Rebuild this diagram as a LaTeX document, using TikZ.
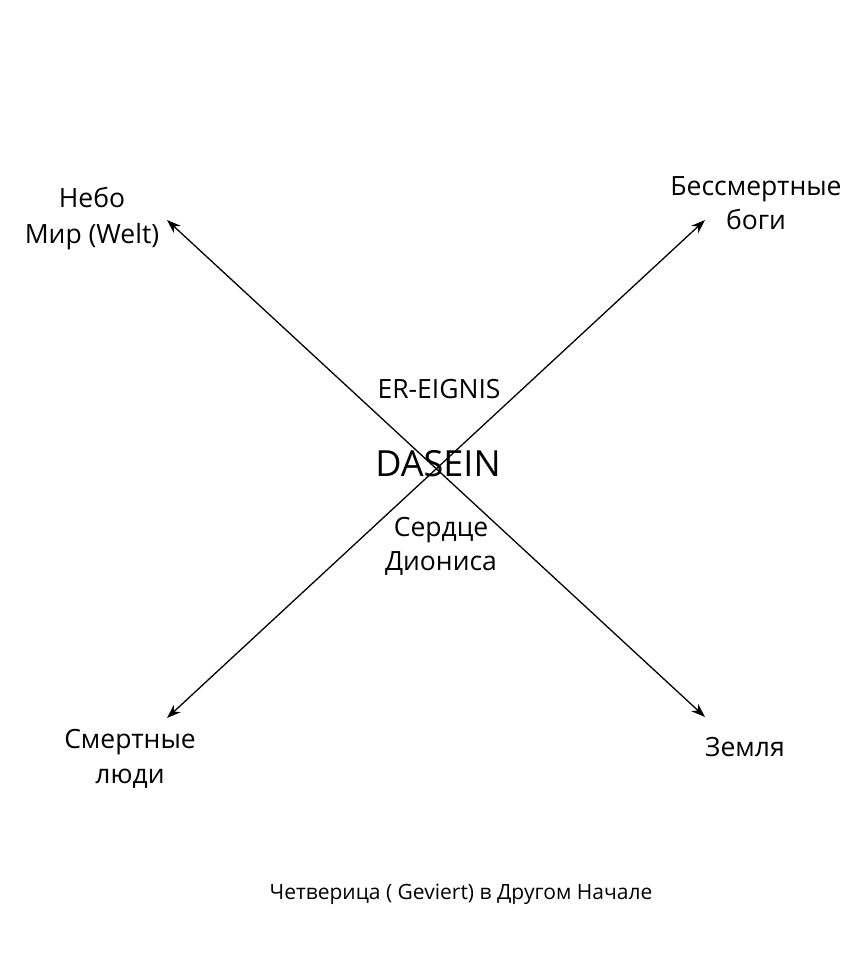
\documentclass[tikz,border=0pt]{standalone}
\usepackage{fontspec}
\setmainfont{Open Sans}
\usetikzlibrary{arrows.meta}
\begin{document}
\begin{tikzpicture}[x=1pt,y=-1pt,
  lbl/.style={align=center,inner sep=0pt,font=\fontsize{26.5}{36}\selectfont},
  conn/.style={line width=1.3pt,{Stealth[length=14pt,width=10pt]}-{Stealth[length=14pt,width=10pt]}}]
\useasboundingbox[fill=white] (0,0) rectangle (865,958);
\coordinate (nw) at (167,220);
\coordinate (se) at (705,717);
\coordinate (ne) at (705,220);
\coordinate (sw) at (167,718);
\draw[conn] (nw) -- (se);
\draw[conn] (sw) -- (ne);
\node[lbl] (sky) at (92,219) {Небо\\Мир (Welt)};
\node[lbl,font=\fontsize{26.5}{34}\selectfont] (gods) at (756,203) {Бессмертные\\боги};
\node[lbl,font=\fontsize{26.5}{35}\selectfont] (mortals) at (130,759) {Смертные\\люди};
\node[lbl] (earth) at (745,747) {Земля};
\node[lbl,font=\fontsize{26.5}{30}\selectfont] (ereignis) at (439,389) {ER-EIGNIS};
\node[lbl,font=\fontsize{36}{40}\selectfont] (dasein) at (438,464) {DASEIN};
\node[lbl,font=\fontsize{26.5}{34}\selectfont] (heart) at (441,546) {Сердце\\Диониса};
\node[lbl,font=\fontsize{21}{24}\selectfont] (caption) at (461,894) {Четверица ( Geviert) в Другом Начале};
\end{tikzpicture}
\end{document}
